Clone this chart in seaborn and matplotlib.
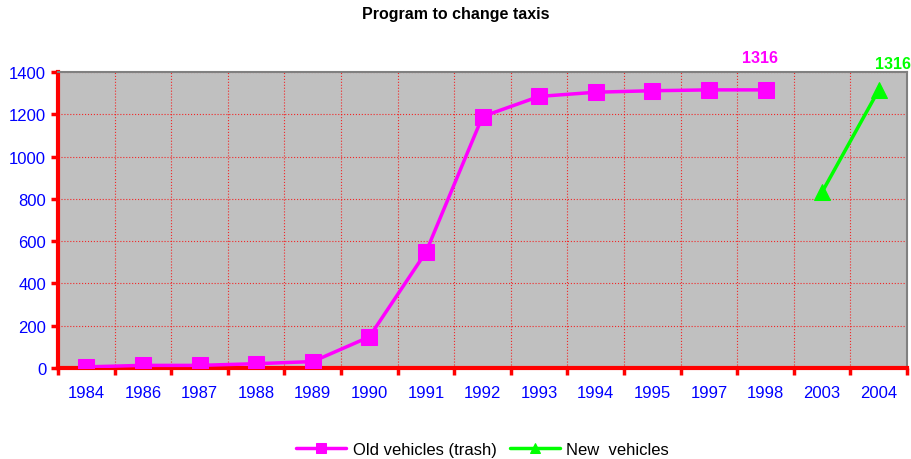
import pandas as pd
import matplotlib.pyplot as plt
import seaborn as sns
from matplotlib.ticker import FixedLocator

# data
years = ['1984', '1986', '1987', '1988', '1989', '1990', '1991', '1992',
         '1993', '1994', '1995', '1997', '1998', '2003', '2004']
old_years = years[:13]
old_values = [5, 12, 12, 20, 30, 147, 548, 1190, 1285, 1305, 1312, 1316, 1316]
new_years = ['2003', '2004']
new_values = [833, 1316]

pos = {y: i for i, y in enumerate(years)}
old_df = pd.DataFrame({'x': [pos[y] for y in old_years], 'value': old_values})
new_df = pd.DataFrame({'x': [pos[y] for y in new_years], 'value': new_values})

sns.set_style('white')
plt.rcParams['font.family'] = ['Liberation Sans', 'DejaVu Sans']
plt.rcParams['text.color'] = 'black'

fig = plt.figure(figsize=(9.12, 4.6), dpi=100)
ax = fig.add_axes([0.0636, 0.198, 0.931, 0.643])
ax.set_facecolor('#c0c0c0')

sns.lineplot(data=old_df, x='x', y='value', ax=ax, color='#ff00ff', lw=2.5,
             marker='s', markersize=11, markeredgecolor='#ff00ff',
             label='Old vehicles (trash)', zorder=3)
sns.lineplot(data=new_df, x='x', y='value', ax=ax, color='#00ff00', lw=2.5,
             marker='^', markersize=12, markeredgecolor='#00ff00',
             label='New  vehicles', zorder=3)

ax.set_xlim(-0.5, len(years) - 0.5)
ax.set_ylim(0, 1400)
ax.set_yticks(range(0, 1401, 200))
ax.set_xticks(range(len(years)))
ax.set_xticklabels(years)
ax.xaxis.set_minor_locator(FixedLocator([i + 0.5 for i in range(-1, len(years))]))
ax.set_xlabel('')
ax.set_ylabel('')

ax.grid(False)
ax.grid(axis='y', which='major', color='#ff0000', lw=0.8, ls=':', alpha=0.8)
ax.grid(axis='x', which='minor', color='#ff0000', lw=0.8, ls=':', alpha=0.8)

ax.tick_params(axis='x', which='major', bottom=True, length=0, labelsize=12,
               labelcolor='#0000ff', pad=12)
ax.tick_params(axis='x', which='minor', bottom=True, length=5, width=2.5,
               color='#ff0000')
ax.tick_params(axis='y', which='major', left=True, length=5, width=2.5,
               color='#ff0000', labelsize=12, labelcolor='#0000ff')

for side in ['left', 'bottom']:
    ax.spines[side].set_color('#ff0000')
    ax.spines[side].set_linewidth(3)
for side in ['top', 'right']:
    ax.spines[side].set_color('#808080')
    ax.spines[side].set_linewidth(1.5)

ax.annotate('1316', (pos['1998'], 1316), xytext=(-4, 20), textcoords='offset points',
            color='#ff00ff', fontsize=11.5, fontweight='bold', ha='center')
ax.annotate('1316', (pos['2004'], 1316), xytext=(10, 16), textcoords='offset points',
            color='#00ff00', fontsize=11.5, fontweight='bold', ha='center',
            annotation_clip=False)

ax.legend(loc='upper center', bbox_to_anchor=(0.5, -0.2), ncol=2, frameon=False,
          fontsize=12, handlelength=3, columnspacing=0.8, handletextpad=0.4,
          markerscale=0.6)

fig.suptitle('Program to change taxis', fontsize=11.5, fontweight='bold',
             y=0.985, color='black')

fig.savefig('out.png', dpi=100)
